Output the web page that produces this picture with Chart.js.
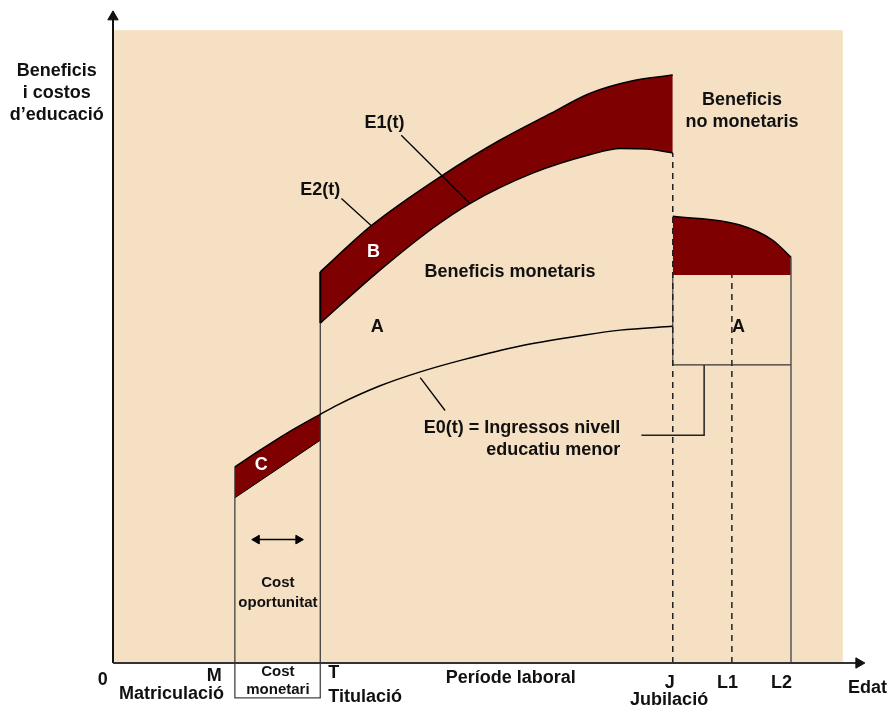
<!DOCTYPE html>
<html><head><meta charset="utf-8">
<script src="https://cdn.jsdelivr.net/npm/chart.js@4.4.0/dist/chart.umd.min.js"></script>
<style>html,body{margin:0;padding:0;background:#fff}#wrap{width:889px;height:713px;position:relative}</style>
</head><body><div id="wrap"><canvas id="c"></canvas></div>
<script>
// x: edat (arbitrary units, plot region 0..100), y: beneficis i costos (plot region 0..100)
const ageMarks = { M: 16.7, T: 28.4, J: 76.7, L1: 84.8, L2: 92.9 };
const tickNames = ['0', 'M', 'T', 'J', 'L1', 'L2'];

const e2X = [28.4, 35.4, 45.2, 53.0, 59.9, 65.3, 71.2, 76.7];
const e2Y = [61.8, 69.1, 77.1, 82.6, 86.8, 90.0, 92.0, 92.9];

const e1X = [28.4, 36.1, 43.8, 48.9, 57.5, 65.3, 69.5, 73.2, 76.7];
const e1Y = [53.7, 61.6, 68.7, 72.6, 77.4, 80.3, 81.3, 81.2, 80.6];

const e0X = [16.7, 20.1, 23.8, 28.4, 30.8, 36.6, 42.1, 47.9, 55.8, 64.0, 69.5, 76.7];
const e0Y = [31.0, 33.6, 36.3, 39.3, 40.8, 43.8, 46.0, 47.9, 50.1, 51.7, 52.6, 53.2];

const studyX = [16.7, 28.4];
const studyY = [26.1, 35.2];

const nonMonX = [76.7, 85.9, 90.4, 92.9];
const nonMonY = [70.6, 69.2, 66.8, 64.1];
const nonMonBase = 61.3;
const retireBoxBottom = 47.1;
const calloutY = 36.0;
const calloutX = [81.0, 72.4];
const costMonetariDepth = -5.5;

const RED = '#7F0000';
const BG = '#F5E0C3';

const pts = (xs, ys) => xs.map((x, i) => ({ x, y: ys[i] }));
const seg = (x1, y1, x2, y2) => [{ x: x1, y: y1 }, { x: x2, y: y2 }];

function line(data, extra) {
  return Object.assign({ data, showLine: true, pointRadius: 0, borderColor: '#000', borderWidth: 1.5, fill: false, clip: false, order: 1 }, extra || {});
}

const datasets = [
  // 0: E2 (fills down to E1)
  line(pts(e2X, e2Y), { cubicInterpolationMode: 'monotone', fill: 1, backgroundColor: RED, order: 10 }),
  // 1: E1
  line(pts(e1X, e1Y), { cubicInterpolationMode: 'monotone' }),
  // 2: E0
  line(pts(e0X, e0Y), { cubicInterpolationMode: 'monotone' }),
  // 3: earnings while studying (fills up to E0) -> C
  line(pts(studyX, studyY), { fill: 2, backgroundColor: RED, borderWidth: 1, order: 10 }),
  // 4: non-monetary benefits after retirement
  line(pts(nonMonX, nonMonY), { cubicInterpolationMode: 'monotone', fill: { value: nonMonBase }, backgroundColor: RED, order: 10 }),
  // verticals
  line(seg(ageMarks.M, 0, ageMarks.M, e0Y[0]), { borderColor: '#333', borderWidth: 1.2 }),
  line(seg(ageMarks.T, 0, ageMarks.T, e1Y[0]), { borderColor: '#333', borderWidth: 1.2 }),
  line(seg(ageMarks.T, e1Y[0], ageMarks.T, e2Y[0]), { borderWidth: 2 }),
  line(seg(ageMarks.J, 0, ageMarks.J, e1Y[e1Y.length - 1]), { borderColor: '#222', borderWidth: 1.5, borderDash: [6, 5] }),
  line(seg(ageMarks.J, retireBoxBottom, ageMarks.J, nonMonBase), { borderColor: '#444', borderWidth: 1.2 }),
  line(seg(ageMarks.L1, 0, ageMarks.L1, nonMonBase), { borderColor: '#222', borderWidth: 1.5, borderDash: [6, 5] }),
  line(seg(ageMarks.L2, 0, ageMarks.L2, nonMonY[nonMonY.length - 1]), { borderColor: '#555', borderWidth: 1.5 }),
  line(seg(ageMarks.J, retireBoxBottom, ageMarks.L2, retireBoxBottom), { borderColor: '#333', borderWidth: 1.2 }),
  // callout to E0 label
  line([{ x: calloutX[0], y: retireBoxBottom }, { x: calloutX[0], y: calloutY }, { x: calloutX[1], y: calloutY }], { borderColor: '#222', borderWidth: 1.5 }),
  // pointer lines
  line(seg(31.3, 73.4, 35.4, 69.1), { borderWidth: 1.3 }),
  line(seg(39.5, 83.4, 48.9, 72.6), { borderWidth: 1.3 }),
  line(seg(42.1, 45.1, 45.5, 39.9), { borderWidth: 1.3 }),
  // double arrow (cost d'oportunitat)
  line(seg(19.7, 19.5, 25.4, 19.5), { borderWidth: 1.5, pointRadius: 5, pointStyle: 'triangle', pointRotation: [270, 90], pointBackgroundColor: '#000', pointBorderColor: '#000', pointBorderWidth: 1 }),
  // cost monetari box
  line([{ x: ageMarks.M, y: 0 }, { x: ageMarks.M, y: costMonetariDepth }, { x: ageMarks.T, y: costMonetariDepth }, { x: ageMarks.T, y: 0 }], { borderColor: '#444', borderWidth: 1.3 }),
  // axes with arrowheads
  line(seg(0, 0, 102.2, 0), { borderColor: '#333', borderWidth: 2, pointRadius: [0, 6], pointStyle: 'triangle', pointRotation: [0, 90], pointBackgroundColor: '#111', pointBorderColor: '#111', pointBorderWidth: 1, order: 0 }),
  line(seg(0, 0, 0, 102.1), { borderColor: '#111', borderWidth: 2, pointRadius: [0, 6], pointStyle: 'triangle', pointRotation: [0, 0], pointBackgroundColor: '#111', pointBorderColor: '#111', pointBorderWidth: 1, order: 0 })
];

const texts = [
  { t: 'Beneficis', x: -7.7, y: 93.5 },
  { t: 'i costos', x: -7.7, y: 90.0 },
  { t: 'd\u2019educació', x: -7.7, y: 86.6 },
  { t: 'E1(t)', x: 37.2, y: 85.3 },
  { t: 'E2(t)', x: 28.4, y: 74.7 },
  { t: 'B', x: 35.7, y: 65.0, c: '#fff' },
  { t: 'Beneficis monetaris', x: 54.4, y: 61.8 },
  { t: 'A', x: 36.2, y: 53.1 },
  { t: 'Beneficis', x: 86.2, y: 88.9 },
  { t: 'no monetaris', x: 86.2, y: 85.5 },
  { t: 'A', x: 85.7, y: 53.1 },
  { t: 'E0(t) = Ingressos nivell', x: 69.5, y: 37.1, a: 'right' },
  { t: 'educatiu menor', x: 69.5, y: 33.6, a: 'right' },
  { t: 'C', x: 20.3, y: 31.3, c: '#fff' },
  { t: 'Cost', x: 22.6, y: 12.6, s: 15 },
  { t: 'oportunitat', x: 22.6, y: 9.5, s: 15 },
  { t: 'Cost', x: 22.6, y: -1.4, s: 15 },
  { t: 'monetari', x: 22.6, y: -4.3, s: 15 },
  { t: tickNames[0], x: -1.4, y: -2.7 },
  { t: tickNames[1], x: 14.9, y: -2.1, a: 'right' },
  { t: 'Matriculació', x: 15.2, y: -4.9, a: 'right' },
  { t: tickNames[2], x: 29.5, y: -1.6, a: 'left' },
  { t: 'Titulació', x: 29.5, y: -5.4, a: 'left' },
  { t: 'Període laboral', x: 54.5, y: -2.4 },
  { t: tickNames[3], x: 76.3, y: -3.2 },
  { t: 'Jubilació', x: 76.2, y: -5.8 },
  { t: tickNames[4], x: 84.2, y: -3.2 },
  { t: tickNames[5], x: 91.6, y: -3.2 },
  { t: 'Edat', x: 100.7, y: -3.9, a: 'left' }
];

const bgPlugin = {
  id: 'bg',
  beforeDatasetsDraw(chart) {
    const { ctx, scales: { x, y } } = chart;
    const l = x.getPixelForValue(0), r = x.getPixelForValue(100);
    const t = y.getPixelForValue(100), b = y.getPixelForValue(0);
    ctx.save();
    ctx.fillStyle = BG;
    ctx.fillRect(l, t, r - l, b - t);
    ctx.restore();
  }
};

const textPlugin = {
  id: 'texts',
  afterDatasetsDraw(chart) {
    const { ctx, scales: { x, y } } = chart;
    ctx.save();
    ctx.textBaseline = 'middle';
    texts.forEach(o => {
      ctx.font = 'bold ' + (o.s || 18) + 'px "Liberation Sans", Arial, sans-serif';
      ctx.fillStyle = o.c || '#111';
      ctx.textAlign = o.a || 'center';
      ctx.fillText(o.t, x.getPixelForValue(o.x), y.getPixelForValue(o.y));
    });
    ctx.restore();
  }
};

new Chart(document.getElementById('c'), {
  type: 'scatter',
  data: { datasets },
  plugins: [bgPlugin, textPlugin],
  options: {
    responsive: true,
    maintainAspectRatio: false,
    animation: false,
    devicePixelRatio: 1,
    layout: { padding: { left: 113, right: 17, top: 8, bottom: 50 } },
    plugins: { legend: { display: false }, tooltip: { enabled: false } },
    scales: {
      x: { type: 'linear', min: 0, max: 104, display: false },
      y: { type: 'linear', min: 0, max: 103.5, display: false }
    }
  }
});
</script>
</body></html>
